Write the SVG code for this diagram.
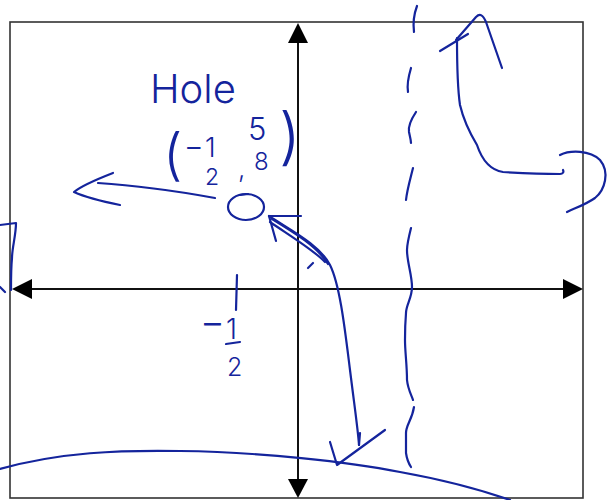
<svg xmlns="http://www.w3.org/2000/svg" width="614" height="500" viewBox="0 0 614 500">
<style>
.ax{stroke:#111;stroke-width:2;fill:none}
.ah{fill:#000}
.ink{stroke:#14249c;stroke-width:2.2;fill:none;stroke-linecap:round;stroke-linejoin:round}
.hw{fill:#14249c;font-family:"Inter","Open Sans","Liberation Sans",sans-serif;font-weight:300}
</style>
<rect width="614" height="500" fill="#fff"/>
<g id="axes">
<rect x="10" y="22" width="573" height="476" fill="none" stroke="#333" stroke-width="1.6"/>
<line class="ax" x1="20" y1="289" x2="575" y2="289"/>
<line class="ax" x1="298" y1="32" x2="298" y2="490"/>
<polygon class="ah" points="12,289 32,279 32,299"/>
<polygon class="ah" points="583,289 563,279 563,299"/>
<polygon class="ah" points="298,23 288,43 308,43"/>
<polygon class="ah" points="298,498 288,479 308,479"/>
</g>
<g id="hole-label">
<text class="hw" x="150" y="103" font-size="40">Hole</text>
<text class="hw" font-size="30"><tspan x="163" y="174" font-size="56">(</tspan><tspan x="184" y="157" font-size="30">−</tspan><tspan x="205" y="157" font-size="27">1</tspan><tspan x="205" y="185" font-size="23">2</tspan><tspan x="238" y="178" font-size="26">,</tspan><tspan x="248" y="140" font-size="31">5</tspan><tspan x="254" y="170" font-size="24">8</tspan><tspan x="279" y="158" font-size="62">)</tspan></text>
</g>
<g id="hole">
<ellipse class="ink" cx="246" cy="207" rx="18" ry="13"/>
<path class="ink" d="M240,195 L248,194"/>
</g>
<g id="x-label">
<path class="ink" d="M237,275 L236,310"/>
<text class="hw" font-size="28"><tspan x="200" y="335" font-size="38">−</tspan><tspan x="226" y="339">1</tspan><tspan x="227" y="376" font-size="25">2</tspan></text>
<path class="ink" d="M226,344 L240,342"/>
</g>
<g id="connectors">
<path class="ink" d="M98,183 C130,185 160,188 215,198"/>
<path class="ink" d="M113,173 C95,180 80,187 74,192 C85,197 105,202 120,205"/>
<path class="ink" d="M269,216 L301,216"/>
<path class="ink" d="M269,216 L276,241"/>
<path class="ink" stroke-width="2.6" d="M269,216 C290,230 320,245 330,265 C340,285 345,330 350,370 C355,410 358,430 359,445"/>
<path class="ink" d="M272,219 C295,233 318,247 328,264"/>
<path class="ink" d="M270,222 C292,237 315,251 325,262"/>
<path class="ink" d="M308,268 L313,263"/>
<path class="ink" d="M359,445 L360,433"/>
<path class="ink" d="M330,442 L337,465 L385,430"/>
<path class="ink" d="M417,6 C414,14 413,24 414,32"/>
<path class="ink" d="M411,68 C408,78 407,86 408,92"/>
<path class="ink" d="M416,112 C412,118 408,126 409,132 C410,137 411,140 411,143"/>
<path class="ink" d="M413,168 C410,180 407,190 406,200"/>
<path class="ink" d="M411,228 C409,236 407,244 407,250 C407,262 412,275 412,287 C412,298 406,305 406,313 C405,325 405,333 405,340 C405,352 407,365 407,380 C408,390 412,396 413,400"/>
<path class="ink" d="M414,407 C412,420 406,425 406,433 C406,440 406,448 406,453 C407,460 409,464 411,467"/>
<path class="ink" d="M563,170 C564,172 563,174 560,174 C540,174 520,173 503,172 C490,170 482,160 477,145 C468,130 463,118 460,105 C457,85 457,60 457,38"/>
<path class="ink" d="M456,40 L476,17 C480,13 483,15 486,22 L502,68"/>
<path class="ink" d="M440,51 L468,34"/>
<path class="ink" d="M560,155 C570,150 590,150 600,160 C610,172 605,190 595,198 C585,205 575,208 567,212"/>
<path class="ink" d="M0,225 L16,223 C16,235 12,248 12,258 C11,268 11,280 11,290"/>
<path class="ink" d="M0,287 L5,292"/>
<path class="ink" d="M0,469 C60,452 120,450 180,451 C260,452 350,462 400,472 C450,481 490,493 510,500"/>
</g>
</svg>
